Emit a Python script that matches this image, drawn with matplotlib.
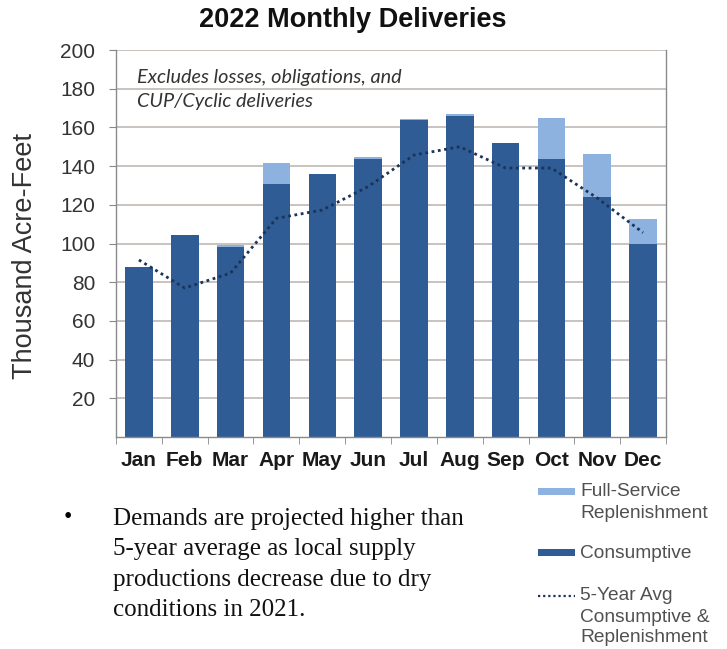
import matplotlib
matplotlib.use("Agg")
import matplotlib.pyplot as plt
from matplotlib.patches import Rectangle
from matplotlib.lines import Line2D
import numpy as np

months = ["Jan", "Feb", "Mar", "Apr", "May", "Jun", "Jul", "Aug", "Sep", "Oct", "Nov", "Dec"]
consumptive = [88, 104.5, 98.3, 131, 135.8, 143.7, 164, 166, 152, 143.8, 124.2, 99.6]
replenishment = [0, 0, 0.8, 10.8, 0.3, 1.2, 0.2, 0.8, 0, 21, 21.8, 12.9]
five_year_avg = [91.5, 77, 84.7, 113, 117.3, 129.4, 145.7, 150, 139, 139, 123.5, 105.6]
yticks = [20, 40, 60, 80, 100, 120, 140, 160, 180, 200]

dark = "#2F5C94"
light = "#8DB2E0"
linec = "#1B3358"
gridc = "#C4BEB9"

W, H = 727, 649
fig = plt.figure(figsize=(W / 100, H / 100), dpi=100)
ax = fig.add_axes([116 / W, 1 - 437 / H, 550 / W, 387 / H])

x = np.arange(len(months))
ax.bar(x, consumptive, width=0.6, color=dark, zorder=2)
ax.bar(x, replenishment, width=0.6, bottom=consumptive, color=light, zorder=2)
ax.plot(x, five_year_avg, linestyle=(0, (1.0, 1.3)), color=linec, linewidth=2.0, zorder=3)

ax.set_xlim(-0.5, 11.5)
ax.set_ylim(0, 200)
ax.set_yticks(yticks)
ax.set_yticklabels([str(v) for v in yticks], fontsize=15, family="Liberation Sans", color="#333333")
ax.set_xticks(x)
ax.set_xticklabels(months, fontsize=15, fontweight="bold", family="Liberation Sans", color="#1a1a1a")
ax.set_xticks(np.arange(-0.5, 12, 1), minor=True)
ax.tick_params(axis="x", which="major", length=0, pad=10)
ax.tick_params(axis="x", which="minor", length=5, color="#888888", direction="out")
ax.tick_params(axis="y", length=5, color="#888888", direction="out", pad=10)
ax.yaxis.grid(True, color=gridc, linewidth=1.3, zorder=0)
ax.set_axisbelow(True)
for s in ["left", "bottom", "right"]:
    ax.spines[s].set_color("#8A8A8A")
    ax.spines[s].set_linewidth(1.0)
ax.spines["top"].set_visible(False)

fig.text(25 / W, 1 - 256 / H, "Thousand Acre-Feet", rotation=90, fontsize=19.5, family="Liberation Sans",
         color="#333333", ha="center", va="center")
fig.text(353 / W, 1 - 27 / H, "2022 Monthly Deliveries", fontsize=19.5, fontweight="bold",
         family="Liberation Sans", ha="center", va="baseline", color="#111111")

note_lines = ["Excludes losses, obligations, and", "CUP/Cyclic deliveries"]
for i, t in enumerate(note_lines):
    fig.text(137 / W, 1 - (77 + 25 * i) / H, t, fontsize=14.3, style="italic", family="Lato",
             color="#333333", va="center", ha="left")

def fx(px):
    return px / W

def fy(py):
    return 1 - py / H

fig.patches.append(Rectangle((fx(538), fy(495)), 37 / W, 7 / H, transform=fig.transFigure,
                             facecolor=light, edgecolor="none"))
fig.patches.append(Rectangle((fx(538), fy(556)), 37 / W, 7 / H, transform=fig.transFigure,
                             facecolor=dark, edgecolor="none"))
fig.lines.append(Line2D([fx(538), fx(575)], [fy(596), fy(596)], transform=fig.transFigure,
                        linestyle=(0, (1.0, 1.3)), color=linec, linewidth=1.6))
legend_lines = [("Full-Service", 492), ("Replenishment", 513), ("Consumptive", 553),
                ("5-Year Avg", 595), ("Consumptive &", 617), ("Replenishment", 638)]
for t, py in legend_lines:
    fig.text(fx(580), fy(py), t, fontsize=13.8, family="Liberation Sans", color="#505050",
             va="center", ha="left")

bullet_lines = ["Demands are projected higher than", "5-year average as local supply",
                "productions decrease due to dry", "conditions in 2021."]
fig.text(fx(68), fy(518), "\u2022", fontsize=17, family="Liberation Serif", va="center", ha="center")
for i, t in enumerate(bullet_lines):
    fig.text(fx(113), fy(525 + 30.5 * i), t, fontsize=18, family="Liberation Serif",
             va="baseline", ha="left", color="#111111")

fig.savefig("out.png", dpi=100)
